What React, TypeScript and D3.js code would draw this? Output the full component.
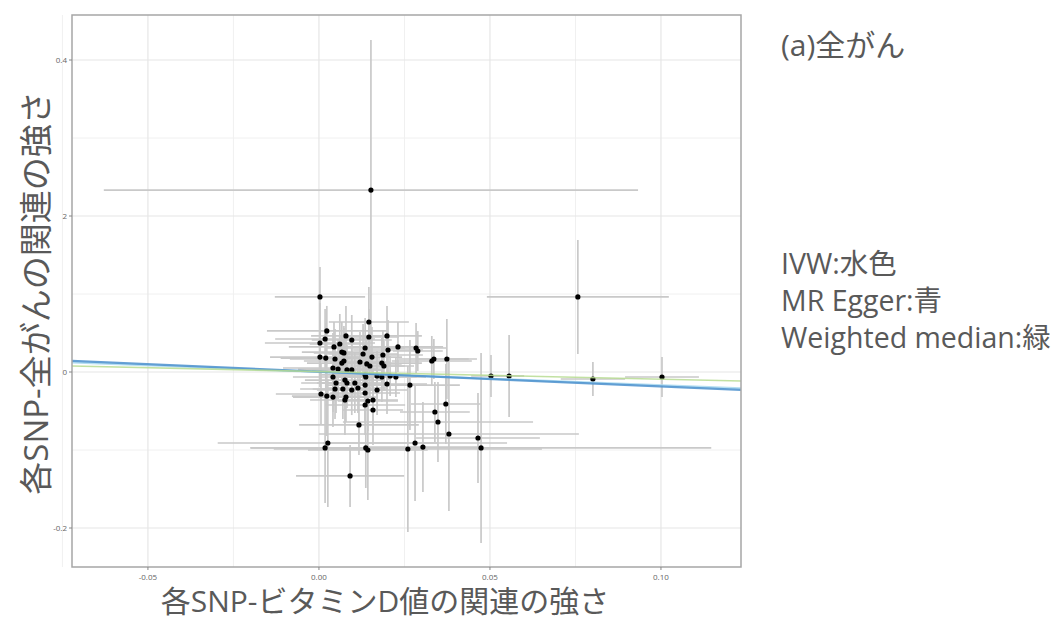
import React from "react";
import * as d3 from "d3";

// SNP-exposure (vitamin D) effect and its standard error
const bx = [
  0.0152, 0.0757, 0.0003, 0.0503, 0.0556, 0.0801, 0.1003, 0.0146, 0.0023, 0.0079,
  0.0146, 0.0199, 0.0003, 0.0096, 0.0061, 0.0044, 0.0231, 0.0202, 0.0284, 0.0289,
  0.0135, 0.033, 0.0336, 0.0374, 0.0266, 0.0199, 0.0006, 0.0023, 0.0041, 0.0079,
  0.0076, 0.0003, 0.002, 0.0018, 0.0067, 0.0073, 0.0129, 0.0155, 0.0187, 0.0047,
  0.0073, 0.0067, 0.012, 0.014, 0.0184, 0.019, 0.0149, 0.0041, 0.0056, 0.0082,
  0.0096, 0.0135, 0.0137, 0.017, 0.0184, 0.0208, 0.0041, 0.005, 0.0076, 0.0082,
  0.0105, 0.0135, 0.017, 0.0047, 0.007, 0.0096, 0.0114, 0.0135, 0.0143, 0.0135,
  0.0158, 0.0225, 0.0158, 0.0371, 0.0339, 0.0348, 0.038, 0.0465, 0.0474, 0.0281,
  0.0304, 0.026, 0.0117, 0.0026, 0.0018, 0.0137, 0.0143, 0.0091,
];
const bxSe = [
  0.0781, 0.0266, 0.0132, 0.0058, 0.0044, 0.0094, 0.0108, 0.0117, 0.0175, 0.0102,
  0.0088, 0.0102, 0.0161, 0.0117, 0.0088, 0.0132, 0.0132, 0.0102, 0.0088, 0.0073,
  0.0117, 0.0117, 0.0102, 0.0088, 0.0146, 0.0117, 0.0132, 0.0102, 0.0117, 0.0088,
  0.0102, 0.0146, 0.0132, 0.0146, 0.0117, 0.0088, 0.0102, 0.0088, 0.0117, 0.0132,
  0.0117, 0.0102, 0.0088, 0.0102, 0.0117, 0.0088, 0.0102, 0.0146, 0.0117, 0.0102,
  0.0088, 0.0132, 0.0102, 0.0117, 0.0102, 0.0088, 0.0117, 0.0102, 0.0117, 0.0088,
  0.0102, 0.0117, 0.0088, 0.0102, 0.0088, 0.0102, 0.0088, 0.0102, 0.0088, 0.0117,
  0.0088, 0.0088, 0.0073, 0.0102, 0.0102, 0.0278, 0.038, 0.0181, 0.0673, 0.0269,
  0.0161, 0.0392, 0.0175, 0.0322, 0.0219, 0.0132, 0.0175, 0.0158,
];
// SNP-outcome (all cancer) effect and its standard error
const by = [
  0.2333, 0.0962, 0.0962, -0.0051, -0.0051, -0.009, -0.0064, 0.0641, 0.0526, 0.0462,
  0.0449, 0.0462, 0.0372, 0.041, 0.0359, 0.0321, 0.0321, 0.0282, 0.0308, 0.0269,
  0.0308, 0.0141, 0.0167, 0.0167, -0.0167, -0.0154, -0.0282, -0.0308, -0.0321, -0.0321,
  -0.0359, 0.0192, 0.0179, 0.0423, 0.0256, 0.0244, 0.0231, 0.0192, 0.0218, 0.0167,
  0.0141, 0.0115, 0.0128, 0.0103, 0.0115, 0.0077, 0.0077, 0.0051, 0.0038, 0.0026,
  0.0026, -0.0038, -0.0064, -0.0051, -0.0064, -0.0051, -0.0064, -0.0141, -0.0103, -0.0141,
  -0.0141, -0.0167, -0.0231, -0.0218, -0.0218, -0.0231, -0.0205, -0.0269, -0.0372, -0.0423,
  -0.0487, -0.0064, -0.0359, -0.041, -0.0513, -0.0641, -0.0795, -0.0846, -0.0974, -0.091,
  -0.0962, -0.0987, -0.0679, -0.091, -0.0974, -0.0974, -0.1, -0.1333,
];
const bySe = [
  0.1923, 0.0731, 0.0385, 0.0269, 0.0526, 0.0218, 0.0256, 0.0449, 0.0321, 0.0385,
  0.0359, 0.0385, 0.0513, 0.0321, 0.0385, 0.0321, 0.0321, 0.0385, 0.0321, 0.0256,
  0.0385, 0.0321, 0.0256, 0.0513, 0.0577, 0.0385, 0.0385, 0.0513, 0.0385, 0.0321,
  0.0449, 0.0385, 0.0449, 0.0385, 0.0385, 0.0321, 0.0385, 0.0385, 0.0321, 0.0385,
  0.0449, 0.0321, 0.0385, 0.0321, 0.0321, 0.0321, 0.0385, 0.0449, 0.0385, 0.0321,
  0.0385, 0.0385, 0.0385, 0.0321, 0.0321, 0.0256, 0.0449, 0.0385, 0.0385, 0.0321,
  0.0385, 0.0449, 0.0321, 0.0385, 0.0385, 0.0321, 0.0321, 0.0385, 0.0385, 0.0385,
  0.0449, 0.0256, 0.0385, 0.0513, 0.0385, 0.0513, 0.0987, 0.0577, 0.1218, 0.0744,
  0.0577, 0.1064, 0.0385, 0.0821, 0.0705, 0.0513, 0.0641, 0.0397,
];

// fitted lines (slope, intercept)
const methods = ["IVW", "MR Egger", "Weighted median"];
const slopes = [-0.17, -0.19, -0.098];
const intercepts = [0, 0.0005, 0.0006];
const lineColors = ["#a8d8f0", "#4a8fcc", "#b7dc92"];
const lineWidths = [2, 2.3, 1.6];

const xTicks = [-0.05, 0, 0.05, 0.1];
const xTickLabels = ["-0.05", "0.00", "0.05", "0.10"];
const xMinor = [-0.075, -0.025, 0.025, 0.075];
const yTicks = [0.4, 0.2, 0, -0.2];
const yTickLabels = ["0.4", "2", "0", "-0.2"];
const yMinor = [0.3, 0.1, -0.1];

const notes = ["IVW:水色", "MR Egger:青", "Weighted median:緑"];

const W = 1059;
const H = 622;
const panel = { left: 72, right: 741, top: 15, bottom: 567 };
const textColor = "#595959";
const font = "'Open Sans', 'Noto Sans CJK JP', sans-serif";

export default function App() {
  const x = d3.scaleLinear().domain([-0.0722, 0.1234]).range([panel.left, panel.right]);
  const y = d3.scaleLinear().domain([-0.25, 0.4577]).range([panel.bottom, panel.top]);
  const pts = d3.range(bx.length);
  const [x0, x1] = x.domain();

  return (
    <svg width={W} height={H} style={{ position: "absolute", left: 0, top: 0, background: "#fff" }}>
      <defs>
        <clipPath id="panel">
          <rect x={panel.left} y={panel.top} width={panel.right - panel.left} height={panel.bottom - panel.top} />
        </clipPath>
      </defs>

      {/* grid */}
      <g>
        {xMinor.map((v) => (
          <line key={"xm" + v} x1={x(v)} x2={x(v)} y1={panel.top} y2={panel.bottom} stroke="#f0f0f0" strokeWidth={1} />
        ))}
        {yMinor.map((v) => (
          <line key={"ym" + v} x1={panel.left} x2={panel.right} y1={y(v)} y2={y(v)} stroke="#f0f0f0" strokeWidth={1} />
        ))}
        {xTicks.map((v) => (
          <line key={"xg" + v} x1={x(v)} x2={x(v)} y1={panel.top} y2={panel.bottom} stroke="#e6e6e6" strokeWidth={1.2} />
        ))}
        {yTicks.map((v) => (
          <line key={"yg" + v} x1={panel.left} x2={panel.right} y1={y(v)} y2={y(v)} stroke="#e6e6e6" strokeWidth={1.2} />
        ))}
      </g>

      <g clipPath="url(#panel)">
        {/* error bars */}
        {pts.map((i) => (
          <g key={"e" + i} stroke="#c9c9c9" strokeWidth={1.7}>
            <line x1={x(bx[i] - bxSe[i])} x2={x(bx[i] + bxSe[i])} y1={y(by[i])} y2={y(by[i])} />
            <line x1={x(bx[i])} x2={x(bx[i])} y1={y(by[i] - bySe[i])} y2={y(by[i] + bySe[i])} />
          </g>
        ))}
        {pts.map((i) => (
          <circle key={"p" + i} cx={x(bx[i])} cy={y(by[i])} r={2.6} fill="#000" />
        ))}
        {/* MR lines */}
        {methods.map((m, k) => (
          <line
            key={m}
            x1={x(x0)}
            x2={x(x1)}
            y1={y(intercepts[k] + slopes[k] * x0)}
            y2={y(intercepts[k] + slopes[k] * x1)}
            stroke={lineColors[k]}
            strokeWidth={lineWidths[k]}
            strokeOpacity={0.85}
          />
        ))}
      </g>

      <rect
        x={panel.left}
        y={panel.top}
        width={panel.right - panel.left}
        height={panel.bottom - panel.top}
        fill="none"
        stroke="#a6a6a6"
        strokeWidth={1.5}
      />

      {/* axes ticks */}
      {xTicks.map((v, i) => (
        <g key={"xt" + v}>
          <line x1={x(v)} x2={x(v)} y1={panel.bottom} y2={panel.bottom + 3} stroke="#888" />
          <text x={x(v)} y={panel.bottom + 13} textAnchor="middle" fontSize={8} fill="#666" fontFamily={font}>
            {xTickLabels[i]}
          </text>
        </g>
      ))}
      {yTicks.map((v, i) => (
        <g key={"yt" + v}>
          <line x1={panel.left - 3} x2={panel.left} y1={y(v)} y2={y(v)} stroke="#888" />
          <text x={panel.left - 5} y={y(v) + 3} textAnchor="end" fontSize={8} fill="#666" fontFamily={font}>
            {yTickLabels[i]}
          </text>
        </g>
      ))}

      {/* axis titles */}
      <text x={385} y={612} textAnchor="middle" fontSize={30} fill={textColor} fontFamily={font}>
        各SNP-ビタミンD値の関連の強さ
      </text>
      <text
        transform="translate(48,293) rotate(-90)"
        textAnchor="middle"
        fontSize={33}
        fill={textColor}
        fontFamily={font}
      >
        各SNP-全がんの関連の強さ
      </text>

      {/* annotations */}
      <text x={781} y={56} fontSize={30} fill={textColor} fontFamily={font}>
        (a)全がん
      </text>
      {notes.map((n, i) => (
        <text key={n} x={781} y={274 + i * 37} fontSize={28.5} fill={textColor} fontFamily={font}>
          {n}
        </text>
      ))}
    </svg>
  );
}
